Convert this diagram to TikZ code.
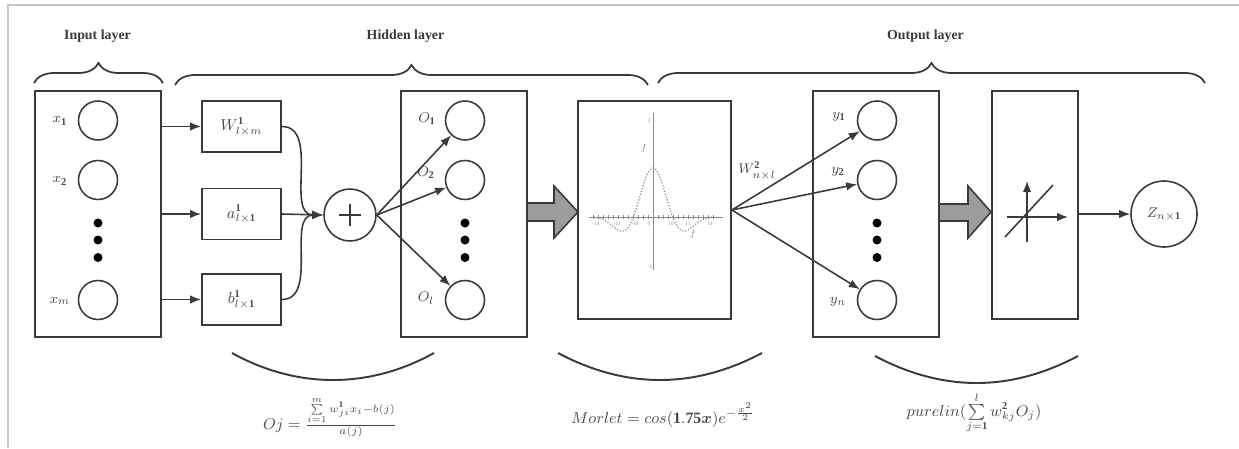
\documentclass[tikz,border=0pt]{standalone}
\usepackage{amsmath}
\usepackage{fontspec}
\setmainfont{Liberation Serif}
\usetikzlibrary{arrows.meta,decorations.pathreplacing}
\definecolor{linegray}{HTML}{3A3A3A}
\definecolor{textgray}{HTML}{4A4A4A}
\definecolor{arrowfill}{HTML}{9C9C9C}
\definecolor{framegray}{HTML}{C8C8C8}
\definecolor{plotgray}{HTML}{8C8C8C}
\begin{document}
\begin{tikzpicture}[x=0.2mm, y=-0.2mm,
  layerbox/.style={draw=linegray, line width=1pt, inner sep=0pt, minimum width=25.2mm, minimum height=49.2mm},
  neuron/.style={draw=linegray, line width=0.9pt, circle, inner sep=0pt, minimum size=7.8mm},
  param/.style={draw=linegray, line width=1pt, inner sep=0pt, minimum width=15.8mm, minimum height=10.2mm, font=\fontsize{9}{10}\selectfont, text=textgray},
  blob/.style={circle, fill=black, inner sep=0pt, minimum size=1.8mm},
  conn/.style={-{Latex[length=2.2mm, width=1.7mm]}, line width=0.9pt, draw=linegray},
  lab/.style={font=\fontsize{8.5}{10}\selectfont, text=textgray},
  layertitle/.style={font=\fontsize{7.9}{9}\selectfont\bfseries, text=linegray},
  formula/.style={font=\fontsize{9}{11}\selectfont, text=textgray},
  bigarrow/.style={draw=linegray, line width=0.9pt, fill=arrowfill, line join=miter},
  bracket/.style={decorate, decoration={brace, amplitude=4mm}, line width=1pt, draw=linegray},
  smile/.style={line width=1.1pt, draw=linegray},
  tick/.style={font=\fontsize{3}{3}\selectfont, text=plotgray, inner sep=0pt},
]
\useasboundingbox (0,0) rectangle (1239,448);
\draw[framegray, line width=0.6pt] (8,448) -- (8,5) -- (1239,5);
%
\node[layertitle] at (97.5,36) {Input layer};
\node[layertitle] at (405.5,36) {Hidden layer};
\node[layertitle] at (925.5,36) {Output layer};
\draw[bracket] (34,83) -- (163,83);
\draw[bracket] (175,85) -- (648,85);
\draw[bracket] (658,83) -- (1205,83);
%
% input layer
\node[layerbox] (inbox) at (98,214) {};
\node[neuron] (x1) at (98,120.5) {};
\node[neuron] (x2) at (98,180) {};
\node[neuron] (xm) at (98,300) {};
\foreach \y in {223,240,257.5} \node[blob] at (98,\y) {};
\node[lab] at (60,121) {$x_{\mathbf{1}}$};
\node[lab] at (60,181) {$x_{\mathbf{2}}$};
\node[lab] at (60,301) {$x_m$};
%
% weights and biases
\node[param] (w1) at (241.5,126.5) {$W^{\mathbf{1}}_{l\times m}$};
\node[param] (a1) at (241.5,214) {$a^{\mathbf{1}}_{l\times\mathbf{1}}$};
\node[param] (b1) at (241.5,299.5) {$b^{\mathbf{1}}_{l\times\mathbf{1}}$};
\draw[conn] (inbox.east |- w1) -- (w1);
\draw[conn] (inbox.east |- a1) -- (a1);
\draw[conn] (inbox.east |- b1) -- (b1);
%
\node[neuron, minimum size=10.4mm] (plus) at (350,215) {};
\draw[linegray, line width=1pt] ([xshift=-2.2mm]plus.center) -- ([xshift=2.2mm]plus.center);
\draw[linegray, line width=1pt] ([yshift=-2.2mm]plus.center) -- ([yshift=2.2mm]plus.center);
\draw[conn] (w1.east) to[out=0, in=180] (plus.west);
\draw[conn] (a1.east) -- (plus.west);
\draw[conn] (b1.east) to[out=0, in=180] (plus.west);
%
% hidden layer
\node[layerbox] (hidbox) at (464,214) {};
\node[neuron] (o1) at (465,120.5) {};
\node[neuron] (o2) at (465,180) {};
\node[neuron] (ol) at (465,300) {};
\foreach \y in {223,240,257.5} \node[blob] at (465,\y) {};
\node[lab] at (427,119) {$O_{\mathbf{1}}$};
\node[lab] at (426,173) {$O_{\mathbf{2}}$};
\node[lab] at (426,298) {$O_l$};
\draw[conn] (plus.east) -- (o1);
\draw[conn] (plus.east) -- (o2);
\draw[conn] (plus.east) -- (ol);
%
\draw[bigarrow] (527,203) -- (554,203) -- (554,186) -- (578,212) -- (554,238) -- (554,221) -- (527,221) -- cycle;
%
% morlet activation
\node[layerbox, minimum width=30.6mm, minimum height=43.6mm] (morlet) at (654.5,210) {};
\draw[plotgray, line width=0.5pt] (589,217) -- (723,217);
\draw[plotgray, line width=0.5pt] (653,113) -- (653,270);
\foreach \t in {-12,...,12} \draw[plotgray, line width=0.3pt] (653+5*\t,215) -- (653+5*\t,219);
\draw[plotgray, line width=0.7pt, densely dotted] plot[domain=-2.7:2.7, samples=90]
  ({653+22*\x}, {217-49*cos(deg(1.75*\x))*exp(-\x*\x/2)});
\node[tick] at (596,224) {-14};
\node[tick] at (617,224) {-11};
\node[tick] at (635,224) {-10};
\node[tick] at (649,224) {0};
\node[tick] at (671,224) {10};
\node[tick] at (688,224) {11};
\node[tick] at (710,224) {14};
\node[tick] at (649,121) {2};
\node[tick] at (644,148) {$f$};
\node[tick] at (650,267) {-2};
\node[tick] at (693,234) {$f$};
%
% output layer
\node[layerbox] (outbox) at (876,214) {};
\node[neuron] (y1) at (877,120.5) {};
\node[neuron] (y2) at (877,180) {};
\node[neuron] (yn) at (877,300) {};
\foreach \y in {223,240,257.5} \node[blob] at (877,\y) {};
\node[lab] at (839,117) {$y_{\mathbf{1}}$};
\node[lab] at (838,172) {$y_{\mathbf{2}}$};
\node[lab] at (838,302) {$y_n$};
\draw[conn] (morlet.east) -- (y1);
\draw[conn] (morlet.east) -- (y2);
\draw[conn] (morlet.east) -- (yn);
\node[lab] at (757,171) {$W^{\mathbf{2}}_{n\times l}$};
%
\draw[bigarrow] (939,204) -- (968,204) -- (968,186) -- (991,212) -- (968,238) -- (968,221) -- (939,221) -- cycle;
%
% linear activation
\node[layerbox, minimum width=17.2mm, minimum height=45.6mm] (linbox) at (1035,205) {};
\draw[conn] (1007,217) -- (1068,217);
\draw[conn] (1027,242) -- (1027,181);
\draw[linegray, line width=0.9pt] (1005,237) -- (1053,185);
%
\node[neuron, minimum size=13.2mm, lab] (z) at (1164,214) {$Z_{n\times\mathbf{1}}$};
\draw[conn] (linbox.east |- z) -- (z);
%
% formulas
\draw[smile] (232,353) .. controls (297,389) and (369,389) .. (434,353);
\draw[smile] (558,353) .. controls (626,389) and (694,389) .. (762,353);
\draw[smile] (875,356) .. controls (943,392) and (1010,392) .. (1078,356);
\node[formula] at (330,417) {$Oj=\frac{\sum\limits_{i=1}^{m} w^{\mathbf{1}}_{ji}x_i-b(j)}{a(j)}$};
\node[formula] at (663,415) {$Morlet=cos(\mathbf{1.75}\boldsymbol{x})e^{-\frac{x^2}{2}}$};
\node[formula] at (974,413) {$purelin(\sum\limits_{j=\mathbf{1}}^{l} w^{\mathbf{2}}_{kj}O_j)$};
\end{tikzpicture}
\end{document}
